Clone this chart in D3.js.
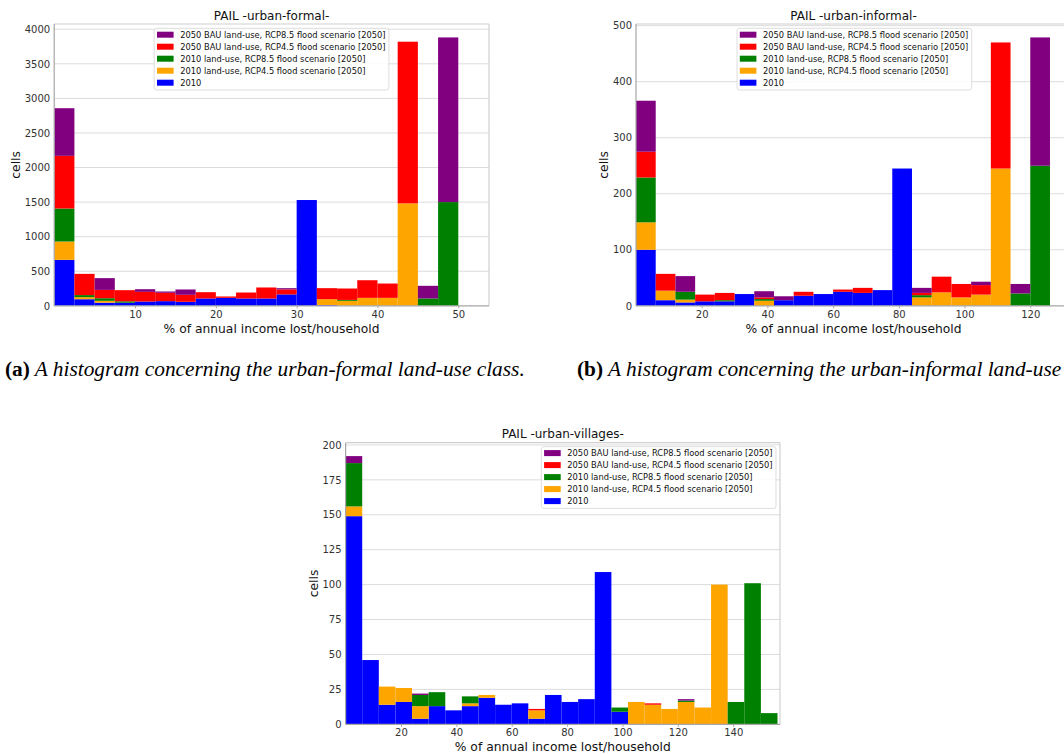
<!DOCTYPE html>
<html>
<head>
<meta charset="utf-8">
<script src="https://cdn.jsdelivr.net/npm/d3@7"></script>
<style>
  body { margin: 0; background: #fff; }
  svg { display: block; }
</style>
</head>
<body>
<svg id="fig" width="1064" height="754"></svg>
<script>
// ---- Series (stacking order, bottom to top) ----
const seriesKeys   = ["y2010", "lu2010_rcp45", "lu2010_rcp85", "bau2050_rcp45", "bau2050_rcp85"];
const seriesLabels = [
  "2010",
  "2010 land-use, RCP4.5 flood scenario [2050]",
  "2010 land-use, RCP8.5 flood scenario [2050]",
  "2050 BAU land-use, RCP4.5 flood scenario [2050]",
  "2050 BAU land-use, RCP8.5 flood scenario [2050]"
];
const seriesColors = ["#0000ff", "#ffa500", "#008000", "#ff0000", "#800080"];

// ---- urban-formal ----
const formalBinEdges = [0, 2.5, 5, 7.5, 10, 12.5, 15, 17.5, 20, 22.5, 25, 27.5, 30, 32.5, 35, 37.5, 40, 42.5, 45, 47.5, 50];
const formal2010      = [665, 95, 45, 45, 62, 67, 58, 106, 115, 106, 106, 165, 1530, 12, 0, 0, 0, 0, 0, 0];
const formalLu2010_45 = [265, 30, 27, 0, 0, 0, 0, 0, 0, 0, 0, 0, 0, 84, 72, 115, 115, 1482, 0, 0];
const formalLu2010_85 = [477, 30, 38, 20, 0, 0, 0, 0, 0, 0, 0, 0, 0, 0, 13, 0, 0, 0, 106, 1500];
const formalBau_45    = [762, 307, 120, 161, 140, 121, 101, 91, 20, 86, 159, 72, 0, 159, 165, 255, 207, 2338, 0, 0];
const formalBau_85    = [689, 0, 170, 0, 38, 19, 77, 0, 0, 0, 0, 18, 0, 0, 0, 0, 0, 0, 183, 2382];
const formalXTicks = [10, 20, 30, 40, 50];
const formalYTicks = [0, 500, 1000, 1500, 2000, 2500, 3000, 3500, 4000];

// ---- urban-informal ----
const informalBinEdges = [0, 6, 12, 18, 24, 30, 36, 42, 48, 54, 60, 66, 72, 78, 84, 90, 96, 102, 108, 114, 120, 126];
const informal2010      = [100, 10, 6, 8, 8, 21, 0, 10, 18, 21, 25, 23, 28, 245, 0, 0, 0, 0, 0, 0, 0];
const informalLu2010_45 = [49, 17, 5, 0, 0, 0, 9, 0, 0, 0, 0, 0, 0, 0, 15, 24, 15, 20, 245, 0, 0];
const informalLu2010_85 = [80, 0, 14, 0, 2, 0, 3, 0, 0, 0, 0, 0, 0, 0, 4, 0, 0, 0, 0, 22, 250];
const informalBau_45    = [46, 30, 0, 12, 13, 0, 3, 0, 7, 0, 4, 9, 0, 0, 4, 28, 24, 17, 225, 0, 0];
const informalBau_85    = [91, 0, 28, 0, 0, 0, 11, 7, 0, 0, 0, 0, 0, 0, 9, 0, 0, 6, 0, 17, 229];
const informalXTicks = [20, 40, 60, 80, 100, 120];
const informalYTicks = [0, 100, 200, 300, 400, 500];

// ---- urban-villages ----
const villagesBinEdges = [0, 6, 12, 18, 24, 30, 36, 42, 48, 54, 60, 66, 72, 78, 84, 90, 96, 102, 108, 114, 120, 126, 132, 138, 144, 150, 156];
const villages2010      = [149, 46, 14, 16, 4, 13, 10, 13, 19, 14, 15, 4, 21, 16, 18, 109, 9, 0, 0, 0, 0, 0, 0, 0, 0, 0];
const villagesLu2010_45 = [7, 0, 13, 10, 9, 0, 0, 2, 2, 0, 0, 6, 0, 0, 0, 0, 0, 16, 14, 11, 16, 12, 100, 0, 0, 0];
const villagesLu2010_85 = [31, 0, 0, 0, 8, 10, 0, 5, 0, 0, 0, 0, 0, 0, 0, 0, 3, 0, 0, 0, 1, 0, 0, 16, 101, 8];
const villagesBau_45    = [0, 0, 0, 0, 0, 0, 0, 0, 0, 0, 0, 1, 0, 0, 0, 0, 0, 0, 1, 0, 0, 0, 0, 0, 0, 0];
const villagesBau_85    = [5, 0, 0, 0, 1, 0, 0, 0, 0, 0, 0, 0, 0, 0, 0, 0, 0, 0, 0, 0, 1, 0, 0, 0, 0, 0];
const villagesXTicks = [20, 40, 60, 80, 100, 120, 140];
const villagesYTicks = [0, 25, 50, 75, 100, 125, 150, 175, 200];

const xLabel = "% of annual income lost/household";
const yLabel = "cells";

const svg = d3.select("#fig");
const FONT = "'DejaVu Sans', sans-serif";

function drawPanel(cfg) {
  const { title, edges, series, xTicks, yTicks, box, xMax, legend } = cfg;
  const g = svg.append("g");

  const bins = d3.range(edges.length - 1).map(i => {
    const row = { x0: edges[i], x1: edges[i + 1] };
    seriesKeys.forEach((k, j) => { row[k] = series[j][i]; });
    return row;
  });
  const stacked = d3.stack().keys(seriesKeys)(bins);
  const yMax = d3.max(bins, b => d3.sum(seriesKeys, k => b[k])) * 1.05;

  const x = d3.scaleLinear().domain([edges[0], xMax]).range([box.x0, box.x1]);
  const y = d3.scaleLinear().domain([0, yMax]).range([box.y1, box.y0]);

  // horizontal grid
  g.append("g")
    .selectAll("line")
    .data(yTicks.filter(t => t > 0))
    .join("line")
    .attr("x1", box.x0).attr("x2", box.x1)
    .attr("y1", d => y(d)).attr("y2", d => y(d))
    .attr("stroke", "#dcdcdc").attr("stroke-width", 1);

  // stacked bars
  stacked.forEach((layer, j) => {
    g.append("g")
      .attr("fill", seriesColors[j])
      .selectAll("rect")
      .data(layer.filter(d => d[1] - d[0] > 0))
      .join("rect")
      .attr("x", d => x(d.data.x0))
      .attr("width", d => x(d.data.x1) - x(d.data.x0))
      .attr("y", d => y(d[1]))
      .attr("height", d => y(d[0]) - y(d[1]));
  });

  // frame
  g.append("line").attr("x1", box.x0).attr("x2", box.x1).attr("y1", box.y0).attr("y2", box.y0)
    .attr("stroke", "#d0d0d0").attr("stroke-width", 1.2);
  g.append("line").attr("x1", box.x1).attr("x2", box.x1).attr("y1", box.y0).attr("y2", box.y1)
    .attr("stroke", "#d0d0d0").attr("stroke-width", 1.2);
  g.append("line").attr("x1", box.x0).attr("x2", box.x0).attr("y1", box.y0).attr("y2", box.y1)
    .attr("stroke", "#a6a6a6").attr("stroke-width", 1.2);
  g.append("line").attr("x1", box.x0).attr("x2", box.x1).attr("y1", box.y1).attr("y2", box.y1)
    .attr("stroke", "#a6a6a6").attr("stroke-width", 1.2);

  // x axis
  const xAxis = g.append("g")
    .attr("transform", `translate(0,${box.y1})`)
    .call(d3.axisBottom(x).tickValues(xTicks).tickSize(2.5).tickPadding(2.5).tickFormat(d3.format("d")));
  xAxis.select(".domain").remove();
  xAxis.selectAll(".tick line").attr("stroke", "#a6a6a6");
  xAxis.selectAll("text").attr("fill", "#333").style("font-family", FONT).style("font-size", "10px");

  // y axis
  const yAxis = g.append("g")
    .attr("transform", `translate(${box.x0},0)`)
    .call(d3.axisLeft(y).tickValues(yTicks).tickSize(0).tickPadding(4).tickFormat(d3.format("d")));
  yAxis.select(".domain").remove();
  yAxis.selectAll("text").attr("fill", "#333").style("font-family", FONT).style("font-size", "10px");

  let maxW = 0;
  yAxis.selectAll("text").each(function () { maxW = Math.max(maxW, this.getComputedTextLength()); });

  // labels
  g.append("text")
    .attr("x", (box.x0 + box.x1) / 2).attr("y", box.y0 - 4.5)
    .attr("text-anchor", "middle")
    .style("font-family", FONT).style("font-size", "12px").attr("fill", "#111")
    .text(title);
  g.append("text")
    .attr("x", (box.x0 + box.x1) / 2).attr("y", box.y1 + 27)
    .attr("text-anchor", "middle")
    .style("font-family", FONT).style("font-size", "12.3px").attr("fill", "#111")
    .text(xLabel);
  g.append("text")
    .attr("transform", `translate(${box.x0 - maxW - 8.5},${(box.y0 + box.y1) / 2}) rotate(-90)`)
    .attr("text-anchor", "middle")
    .style("font-family", FONT).style("font-size", "12.3px").attr("fill", "#111")
    .text(yLabel);

  // legend (top entry is the last stacked series)
  const lw = 234.7, lh = 61.7;
  const lx = legend.anchor === "right" ? box.x1 - legend.dx - lw : box.x0 + legend.dx;
  const ly = box.y0 + legend.dy;
  const lg = g.append("g").attr("transform", `translate(${lx},${ly})`);
  lg.append("rect")
    .attr("width", lw).attr("height", lh).attr("rx", 2.5)
    .attr("fill", "#fff").attr("fill-opacity", 0.85)
    .attr("stroke", "#dadada").attr("stroke-width", 0.9);
  const order = seriesKeys.map((k, j) => j).reverse();
  order.forEach((j, r) => {
    const cy = 6.4 + 12 * r;
    lg.append("rect")
      .attr("x", 2.8).attr("y", cy - 3).attr("width", 16.6).attr("height", 6)
      .attr("fill", seriesColors[j]);
    lg.append("text")
      .attr("x", 26).attr("y", cy).attr("dy", "0.35em")
      .style("font-family", FONT).style("font-size", "8.3px").attr("fill", "#111")
      .text(seriesLabels[j]);
  });
}

drawPanel({
  title: "PAIL -urban-formal-",
  edges: formalBinEdges,
  series: [formal2010, formalLu2010_45, formalLu2010_85, formalBau_45, formalBau_85],
  xTicks: formalXTicks, yTicks: formalYTicks,
  box: { x0: 54.2, x1: 489, y0: 24, y1: 305.8 }, xMax: 53.8,
  legend: { anchor: "left", dx: 100, dy: 4.3 }
});

drawPanel({
  title: "PAIL -urban-informal-",
  edges: informalBinEdges,
  series: [informal2010, informalLu2010_45, informalLu2010_85, informalBau_45, informalBau_85],
  xTicks: informalXTicks, yTicks: informalYTicks,
  box: { x0: 636, x1: 1071, y0: 24, y1: 305.8 }, xMax: 132.4,
  legend: { anchor: "left", dx: 101, dy: 4.3 }
});

drawPanel({
  title: "PAIL -urban-villages-",
  edges: villagesBinEdges,
  series: [villages2010, villagesLu2010_45, villagesLu2010_85, villagesBau_45, villagesBau_85],
  xTicks: villagesXTicks, yTicks: villagesYTicks,
  box: { x0: 345.6, x1: 780, y0: 442.7, y1: 724.3 }, xMax: 156.9,
  legend: { anchor: "right", dx: 4, dy: 4 }
});

// ---- sub-figure captions (the page edge trims caption (b)) ----
const captions = [
  { tag: "(a)", text: " A histogram concerning the urban-formal land-use class.", x: 5 },
  { tag: "(b)", text: " A histogram concerning the urban-informal land-use class.", x: 577 }
];
const CAP_FONT = "'Liberation Serif', 'DejaVu Serif', serif";
const capBaseline = 376;
const capNodes = captions.map(c => {
  const t = svg.append("text").attr("x", c.x).attr("y", capBaseline)
    .style("font-family", CAP_FONT).style("font-size", "19px").attr("fill", "#000");
  t.append("tspan").style("font-weight", "bold").text(c.tag);
  t.append("tspan").style("font-style", "italic").text(c.text);
  return t;
});
// size the caption font so caption (a) spans its column
const wA = capNodes[0].node().getComputedTextLength();
const capSize = 19 * 520 / wA;
capNodes.forEach(t => t.style("font-size", capSize + "px"));
</script>
</body>
</html>
